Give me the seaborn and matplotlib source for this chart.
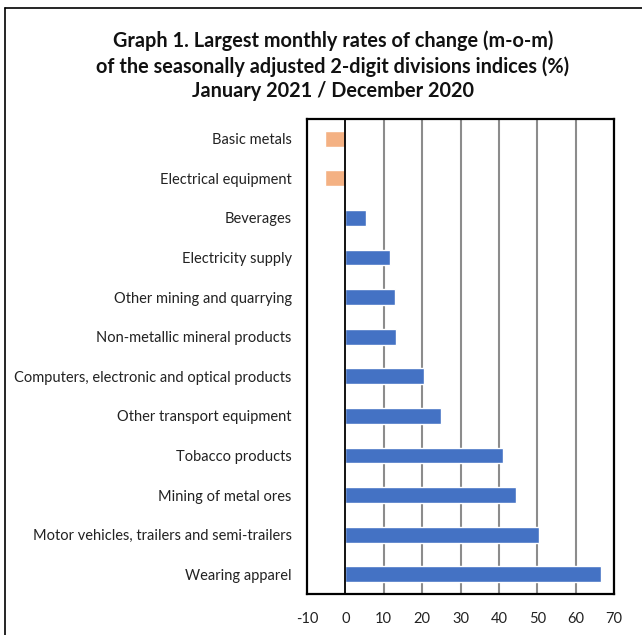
import matplotlib
matplotlib.use("Agg")
import matplotlib.pyplot as plt
import seaborn as sns
import pandas as pd

divisions = [
    "Basic metals",
    "Electrical equipment",
    "Beverages",
    "Electricity supply",
    "Other mining and quarrying",
    "Non-metallic mineral products",
    "Computers, electronic and optical products",
    "Other transport equipment",
    "Tobacco products",
    "Mining of metal ores",
    "Motor vehicles, trailers and semi-trailers",
    "Wearing apparel",
]
change = [-5.2, -5.2, 5.5, 11.6, 13.0, 13.2, 20.4, 24.8, 41.1, 44.4, 50.5, 66.7]
x_ticks = [-10, 0, 10, 20, 30, 40, 50, 60, 70]

df = pd.DataFrame({"division": divisions, "change": change})
df["sign"] = ["neg" if v < 0 else "pos" for v in df["change"]]

sns.set_theme(style="white")
plt.rcParams["font.family"] = ["Lato", "DejaVu Sans"]

fig = plt.figure(figsize=(6.42, 6.35), dpi=100)
ax = fig.add_axes([307 / 642, 1 - 594 / 635, 307 / 642, 475 / 635])

sns.barplot(data=df, y="division", x="change", hue="sign",
            palette={"neg": "#F4B183", "pos": "#4472C4"},
            orient="h", width=0.4, dodge=False, legend=False, ax=ax,
            saturation=1)

ax.set_xlim(-10, 70)
ax.set_xticks(x_ticks)
ax.set_xticklabels([str(t) for t in x_ticks], fontsize=10.5, color="#222222")
ax.tick_params(axis="y", labelsize=10.5, labelcolor="#222222", length=0, pad=11)
ax.tick_params(axis="x", length=0, pad=13)
ax.set_xlabel("")
ax.set_ylabel("")
ax.set_axisbelow(True)
for t in x_ticks[2:]:
    ax.axvline(t, color="#8c8c8c", lw=1.5, zorder=0)
ax.axvline(0, color="black", lw=1.3, zorder=3)
for s in ax.spines.values():
    s.set_visible(True)
    s.set_color("black")
    s.set_linewidth(1.6)

fig.text(333 / 642, 1 - 66 / 635,
         "Graph 1. Largest monthly rates of change (m-o-m)\n"
         "of the seasonally adjusted 2-digit divisions indices (%)\n"
         "January 2021 / December 2020",
         ha="center", va="center", fontsize=14.3, fontweight="bold",
         linespacing=1.3, color="#111111")

# chart border
fig.add_artist(plt.Line2D([5 / 642, 5 / 642], [0, 1 - 8 / 635], color="black", lw=1.2))
fig.add_artist(plt.Line2D([5 / 642, 1], [1 - 8 / 635, 1 - 8 / 635], color="black", lw=1.2))

fig.savefig("out.png", dpi=100)
